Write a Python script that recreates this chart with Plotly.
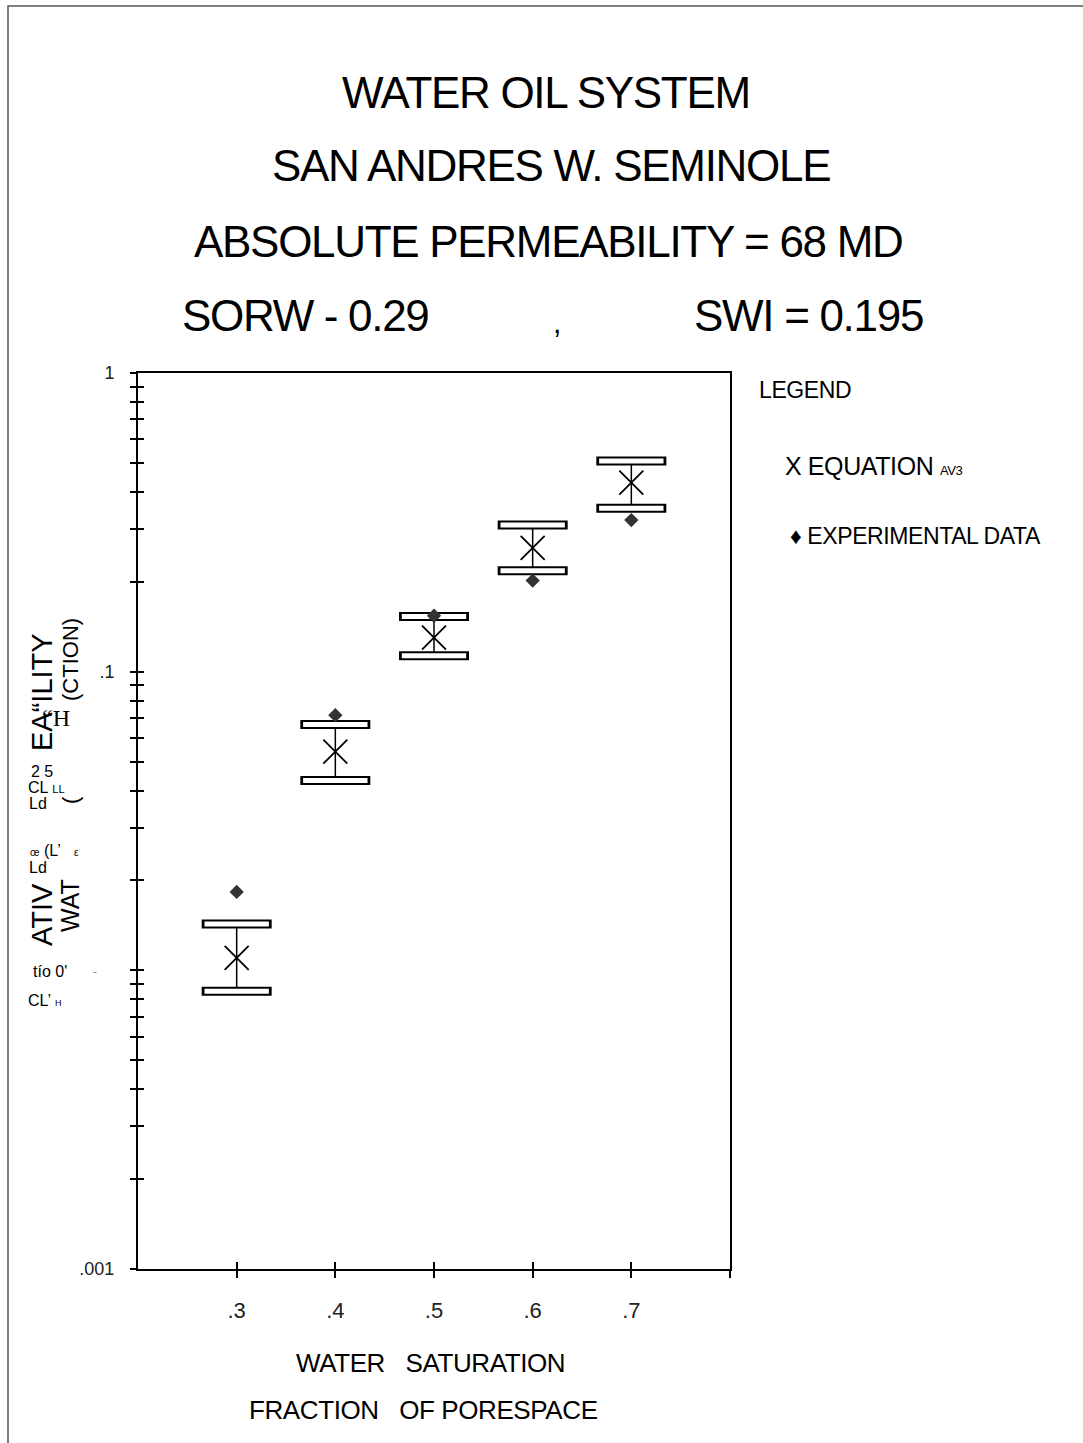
import plotly.graph_objects as go

# ---------------- data ----------------
water_sat = [0.3, 0.4, 0.5, 0.6, 0.7]
kr_equation = [0.0110, 0.054, 0.130, 0.260, 0.430]
kr_upper = [0.0143, 0.0665, 0.153, 0.310, 0.508]
kr_lower = [0.0085, 0.0432, 0.113, 0.218, 0.353]
kr_experimental = [0.0183, 0.0715, 0.154, 0.202, 0.322]

x_tickvals = [0.3, 0.4, 0.5, 0.6, 0.7, 0.8]
x_ticktext = [".3", ".4", ".5", ".6", ".7", ""]
y_major = {1: "1", 0.1: ".1", 0.01: "", 0.001: ".001"}
y_tickvals = sorted([m * 10 ** e for e in (-3, -2, -1) for m in range(1, 10)] + [1])
y_ticktext = [y_major.get(round(v, 6), "") for v in y_tickvals]

# ---------------- layout helpers ----------------
W, H = 1083, 1443
L, R, T, B = 138, 730, 373, 1269
FONT = "Liberation Sans Narrow, Arial Narrow, Liberation Sans, Arial, sans-serif"


def px(xp):
    return (xp - L) / (R - L)


def py(yp):
    return (B - yp) / (B - T)


fig = go.Figure()

# error bar stems + equation X markers
fig.add_trace(go.Scatter(
    x=water_sat, y=kr_equation, mode="markers",
    marker=dict(symbol="x-thin-open", size=24, color="black", line=dict(width=1.8, color="black")),
    error_y=dict(type="data", symmetric=False,
                 array=[u - e for u, e in zip(kr_upper, kr_equation)],
                 arrayminus=[e - l for e, l in zip(kr_equation, kr_lower)],
                 width=0, thickness=1.5, color="black"),
    showlegend=False, hoverinfo="skip"))

# rounded caps (outline + white fill)
for vals in (kr_upper, kr_lower):
    fig.add_trace(go.Scatter(
        x=water_sat, y=vals, mode="markers",
        marker=dict(symbol="line-ew-open", size=50, color="black",
                    line=dict(width=9, color="black")),
        showlegend=False, hoverinfo="skip"))
    fig.add_trace(go.Scatter(
        x=water_sat, y=vals, mode="markers",
        marker=dict(symbol="line-ew-open", size=46, color="white",
                    line=dict(width=5, color="white")),
        showlegend=False, hoverinfo="skip"))

# experimental data
fig.add_trace(go.Scatter(
    x=water_sat, y=kr_experimental, mode="markers",
    marker=dict(symbol="diamond", size=11, color="#333333"),
    showlegend=False, hoverinfo="skip"))

# invisible trace for inside-tick overlay axes
fig.add_trace(go.Scatter(
    x=water_sat, y=kr_equation, xaxis="x2", yaxis="y2", mode="markers",
    marker=dict(opacity=0), showlegend=False, hoverinfo="skip"))

axis_common = dict(showgrid=False, zeroline=False, tickcolor="black", tickwidth=1.5)

fig.update_layout(
    width=W, height=H,
    margin=dict(l=L, r=W - R, t=T, b=H - B),
    paper_bgcolor="white", plot_bgcolor="white",
    font=dict(family=FONT, color="black"),
    xaxis=dict(range=[0.2, 0.8], tickvals=x_tickvals, ticktext=x_ticktext,
               ticks="outside", ticklen=7, showline=True, linecolor="black",
               linewidth=1.5, mirror=True, ticklabelstandoff=14,
               tickfont=dict(family="Liberation Sans, Arial", size=22, color="#222"),
               **axis_common),
    yaxis=dict(type="log", range=[-3.0005, 0.0005], tickvals=y_tickvals, ticktext=y_ticktext,
               ticks="outside", ticklen=6, showline=True, linecolor="black",
               linewidth=2, mirror=True, ticklabelstandoff=12,
               tickfont=dict(family="Liberation Sans, Arial", size=18, color="#222"),
               **axis_common),
    xaxis2=dict(overlaying="x", anchor="y2", range=[0.2, 0.8], tickvals=x_tickvals[:-1],
                ticks="inside", ticklen=7, showticklabels=False, showline=False,
                **axis_common),
    yaxis2=dict(overlaying="y", anchor="x2", type="log", range=[-3.0005, 0.0005],
                tickvals=y_tickvals, ticks="inside", ticklen=6, showticklabels=False,
                showline=False, **axis_common),
)

# outer frame (left + top)
fig.add_shape(type="path", xref="paper", yref="paper",
              path=f"M {px(8)} {py(1443)} L {px(8)} {py(6)} L {px(1083)} {py(6)}",
              line=dict(color="#555", width=1.5))

ann = []


def text(s, x, y, size, anchor="center", family=FONT, angle=0, color="black", spacing=None):
    if spacing is not None:
        s = f"<span style='letter-spacing:{spacing}px'>{s}</span>"
    ann.append(dict(text=s, x=px(x), y=py(y), xref="paper", yref="paper",
                    showarrow=False, xanchor=anchor, yanchor="middle",
                    textangle=angle, font=dict(size=size, family=family, color=color)))


# title block
text("WATER OIL SYSTEM", 546, 92, 44, spacing=-1.3)
text("SAN ANDRES W. SEMINOLE", 551, 166, 44, spacing=-1.3)
text("ABSOLUTE PERMEABILITY = 68 MD", 548, 242, 44, spacing=-1.3)
text("SORW - 0.29", 180, 315, 44, anchor="left", spacing=-1.3)
text(",", 557, 322, 30)
text("SWI = 0.195", 692, 315, 44, anchor="left", spacing=-1.3)

# legend block
text("LEGEND", 757, 390, 23, anchor="left", spacing=-0.4)
text("X EQUATION <span style='font-size:13px'>AV3</span>", 783, 466, 25, anchor="left", spacing=-0.4)
text("\u2666 EXPERIMENTAL DATA", 788, 536, 23, anchor="left", spacing=-0.4)

# x-axis title
text("WATER\u00a0\u00a0 SATURATION", 430, 1363, 26, spacing=-0.4)
text("FRACTION\u00a0\u00a0 OF PORESPACE", 423, 1410, 26, spacing=-0.4)

# garbled y-axis title fragments
text("EA\u201cILITY", 42, 692, 29, angle=-90, family="Liberation Sans, Arial")
text("ATIV", 42, 915, 29, angle=-90, family="Liberation Sans, Arial")
text("(CTION)", 70, 660, 22, angle=-90, family="Liberation Sans, Arial")
text("WAT", 70, 906, 25, angle=-90, family="Liberation Sans, Arial")
text("(", 70, 800, 22, angle=-90, family="Liberation Sans, Arial")
text("\u201cH", 56, 718, 24, family="Liberation Serif, Times New Roman, serif")
text("2 5", 42, 771, 16, family="Liberation Sans, Arial")
text("CL <span style='font-size:11px'>LL</span>", 46, 787, 16, family="Liberation Sans, Arial")
text("Ld", 38, 803, 16, family="Liberation Sans, Arial")
text("<span style='font-size:10px'>\u0153</span> (L\u2019", 45, 850, 16, family="Liberation Sans, Arial")
text("Ld", 38, 867, 16, family="Liberation Sans, Arial")
text("<span style='font-size:10px'>\u03b5</span>", 76, 852, 12, family="Liberation Sans, Arial")
text("t\u00edo 0'", 50, 971, 16, family="Liberation Sans, Arial")
text("CL\u2019 <span style='font-size:9px'>H</span>", 44, 1000, 16, family="Liberation Sans, Arial")
text("-", 95, 972, 12, family="Liberation Sans, Arial", color="#888")

fig.update_layout(annotations=ann)

fig.write_html("out.html")
